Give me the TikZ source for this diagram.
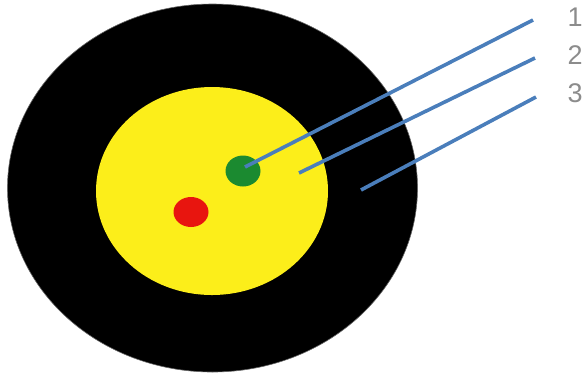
\documentclass[tikz,border=0pt]{standalone}
\usepackage{fontspec}
\setmainfont{Liberation Sans}
\usetikzlibrary{shapes.geometric}
\definecolor{cyellow}{HTML}{FCEE1A}
\definecolor{cgreen}{HTML}{1B8A30}
\definecolor{cred}{HTML}{E8150F}
\definecolor{cblue}{HTML}{4A7EBB}
\definecolor{cgray}{HTML}{8C8C8C}
\begin{document}
\begin{tikzpicture}[x=1pt,y=-1pt,
  disc/.style={ellipse,inner sep=0pt,draw=none},
  leader/.style={draw=cblue,line width=3.6pt},
  lbl/.style={inner sep=0pt,text=cgray,font=\fontsize{27}{27}\selectfont}]
\useasboundingbox (0,0) rectangle (583,376);
\node[disc,fill=black,draw=black!60,line width=0.6pt,minimum width=410pt,minimum height=368pt] (outer) at (212.5,188) {};
\node[disc,fill=cyellow,minimum width=232pt,minimum height=208pt] (inner) at (212,191) {};
\node[disc,fill=cgreen,minimum width=35pt,minimum height=31pt] (green) at (243,171) {};
\node[disc,fill=cred,minimum width=35pt,minimum height=30pt] (red) at (191,212) {};
\coordinate (s1) at (245,167);
\coordinate (s2) at (299,173);
\coordinate (s3) at (361,190);
\coordinate (e1) at (533,20);
\coordinate (e2) at (535,58);
\coordinate (e3) at (536,97);
\node[lbl] (l1) at (575,17) {1};
\node[lbl] (l2) at (575,55) {2};
\node[lbl] (l3) at (575,93) {3};
\draw[leader] (s1) -- (e1);
\draw[leader] (s2) -- (e2);
\draw[leader] (s3) -- (e3);
\end{tikzpicture}
\end{document}
